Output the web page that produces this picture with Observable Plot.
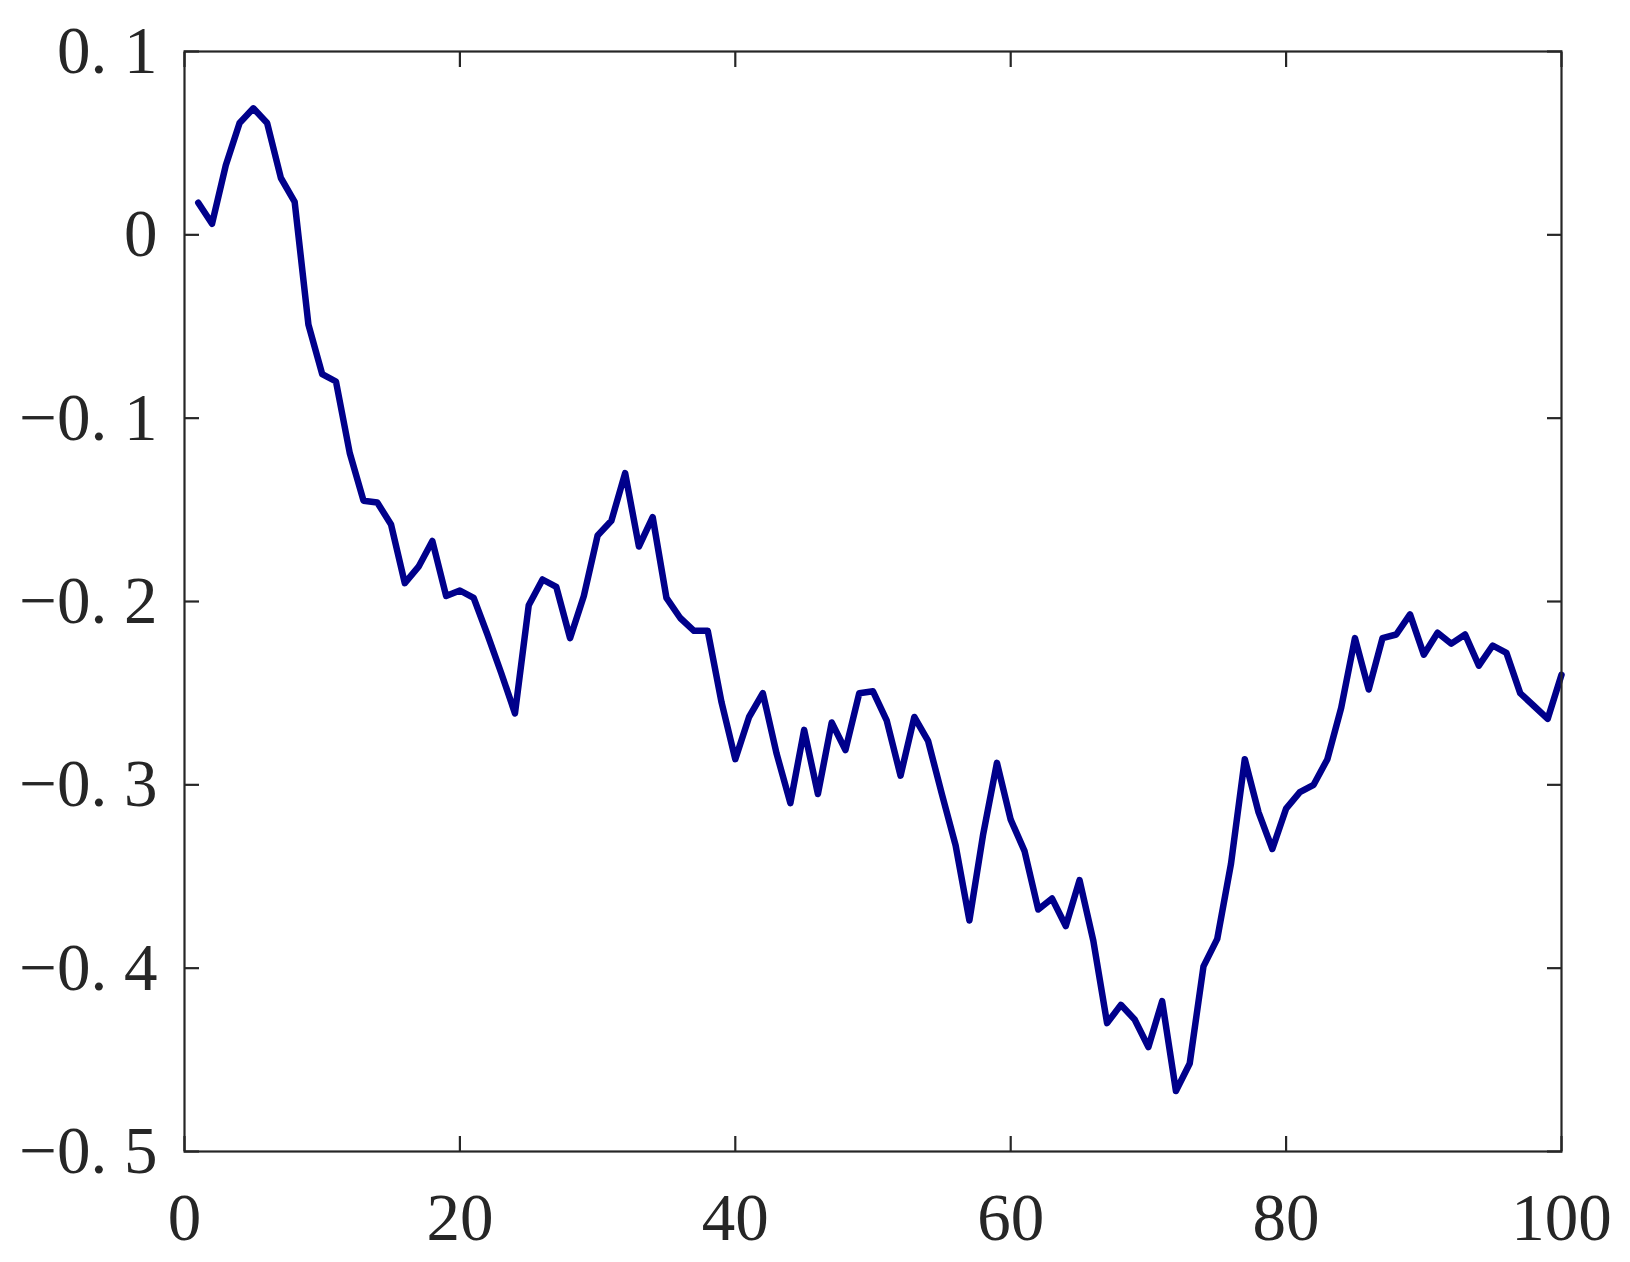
<!DOCTYPE html>
<html>
<head>
<meta charset="utf-8">
<script src="https://cdn.jsdelivr.net/npm/d3@7"></script>
<script src="https://cdn.jsdelivr.net/npm/@observablehq/plot@0.6"></script>
<style>
  html, body { margin: 0; padding: 0; background: #ffffff; }
  #chart svg { display: block; }
</style>
</head>
<body>
<div id="chart"></div>
<script>
// Series values (x = 1..100)
const yValues = [
  0.0175, 0.006, 0.038, 0.061, 0.069, 0.061, 0.031, 0.018, -0.049, -0.076,
  -0.080, -0.119, -0.145, -0.146, -0.158, -0.190, -0.181, -0.167, -0.197, -0.194,
  -0.198, -0.218, -0.239, -0.261, -0.202, -0.188, -0.192, -0.220, -0.197, -0.164,
  -0.156, -0.130, -0.170, -0.154, -0.198, -0.209, -0.216, -0.216, -0.255, -0.286,
  -0.263, -0.250, -0.283, -0.310, -0.270, -0.305, -0.266, -0.281, -0.250, -0.249,
  -0.265, -0.295, -0.263, -0.276, -0.305, -0.333, -0.374, -0.327, -0.288, -0.319,
  -0.336, -0.368, -0.362, -0.377, -0.352, -0.385, -0.430, -0.420, -0.428, -0.443,
  -0.418, -0.467, -0.452, -0.399, -0.384, -0.343, -0.286, -0.315, -0.335, -0.313,
  -0.304, -0.300, -0.286, -0.258, -0.220, -0.248, -0.220, -0.218, -0.207, -0.229,
  -0.217, -0.223, -0.218, -0.235, -0.224, -0.228, -0.250, -0.257, -0.264, -0.240
];
const xValues = yValues.map((_, i) => i + 1);

// Tick values and labels
const xTicks = [0, 20, 40, 60, 80, 100];
const yTicks = [-0.5, -0.4, -0.3, -0.2, -0.1, 0, 0.1];
const yTickLabels = ["−0. 5", "−0. 4", "−0. 3", "−0. 2", "−0. 1", "0", "0. 1"];

const data = xValues.map((x, i) => ({x, y: yValues[i]}));
const axisColor = "#262626";

const chart = Plot.plot({
  width: 1630,
  height: 1262,
  marginLeft: 184,
  marginRight: 69,
  marginTop: 51,
  marginBottom: 111,
  style: {
    fontFamily: "'Liberation Serif', 'DejaVu Serif', serif",
    fontSize: "67px",
    color: axisColor,
    background: "#ffffff"
  },
  x: {domain: [0, 100]},
  y: {domain: [-0.5, 0.1]},
  marks: [
    Plot.line(data, {x: "x", y: "y", stroke: "#00008b", strokeWidth: 6.5, strokeLinejoin: "round"}),
    Plot.frame({stroke: axisColor, strokeWidth: 2.2}),
    // inward ticks on all four sides
    Plot.axisX({ticks: xTicks, anchor: "bottom", tickSize: -15, tickFormat: () => "", stroke: axisColor, strokeWidth: 2.2, label: null}),
    Plot.axisX({ticks: xTicks, anchor: "top", tickSize: -15, tickFormat: () => "", stroke: axisColor, strokeWidth: 2.2, label: null}),
    Plot.axisY({ticks: yTicks, anchor: "left", tickSize: -15, tickFormat: () => "", stroke: axisColor, strokeWidth: 2.2, label: null}),
    Plot.axisY({ticks: yTicks, anchor: "right", tickSize: -15, tickFormat: () => "", stroke: axisColor, strokeWidth: 2.2, label: null}),
    // tick labels
    Plot.axisX({ticks: xTicks, anchor: "bottom", tickSize: 0, tickPadding: 41, tickFormat: d => String(d), fill: axisColor, label: null}),
    Plot.axisY({ticks: yTicks, anchor: "left", tickSize: 0, tickPadding: 27,
      tickFormat: d => yTickLabels[yTicks.findIndex(t => Math.abs(t - d) < 1e-9)], fill: axisColor, label: null})
  ]
});
document.getElementById("chart").appendChild(chart);
</script>
</body>
</html>
